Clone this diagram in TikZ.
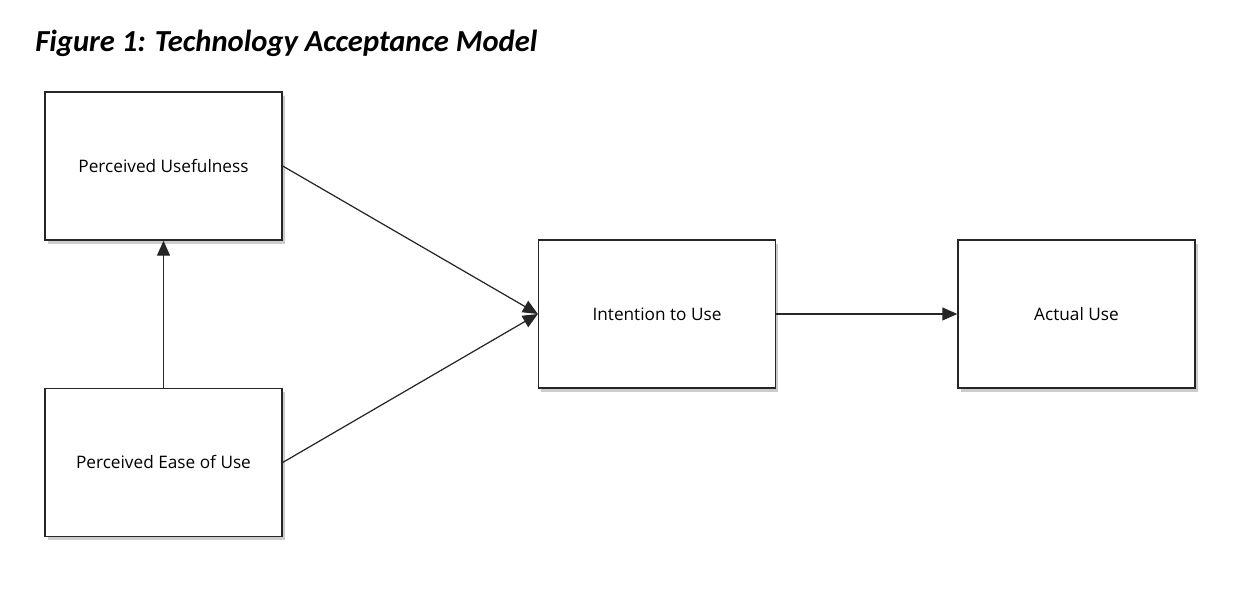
\documentclass[tikz,border=0pt]{standalone}
\usepackage{fontspec}
\setmainfont{Open Sans}
\newfontfamily\titlefont{Carlito}
\usetikzlibrary{arrows.meta,shadows}
\begin{document}
\begin{tikzpicture}[x=0.02cm, y=-0.02cm,
		box/.style={draw=black!85, line width=0.8pt, fill=white,
			minimum width=4.74cm, minimum height=2.96cm,
			font=\fontsize{9.8}{12}\selectfont,
			drop shadow={opacity=0.4, shadow xshift=1.5pt, shadow yshift=-2.2pt}},
		link/.style={line width=0.7pt, black!85,
			-{Triangle[length=0.3cm, width=0.26cm]}}]
			\useasboundingbox (0,0) rectangle (1252,590);

			% Title
			\node[anchor=base west, inner sep=0pt, font=\titlefont\bfseries\itshape\fontsize{17.4}{21}\selectfont]
				(title) at (35,52) {Figure 1: Technology Acceptance Model};

			% Boxes
			\node[box] (useful) at (163.5,166) {Perceived Usefulness};
			\node[box] (ease) at (163.5,462.5) {Perceived Ease of Use};
			\node[box] (intent) at (657,314) {Intention to Use};
			\node[box] (actual) at (1076.5,314) {Actual Use};

			% Arrows
			\draw[link] (ease.north) -- (useful.south);
			\draw[link] (useful.east) -- (intent.west);
			\draw[link] (ease.east) -- (intent.west);
			\draw[link] (intent.east) -- (actual.west);
		\end{tikzpicture}
\end{document}
